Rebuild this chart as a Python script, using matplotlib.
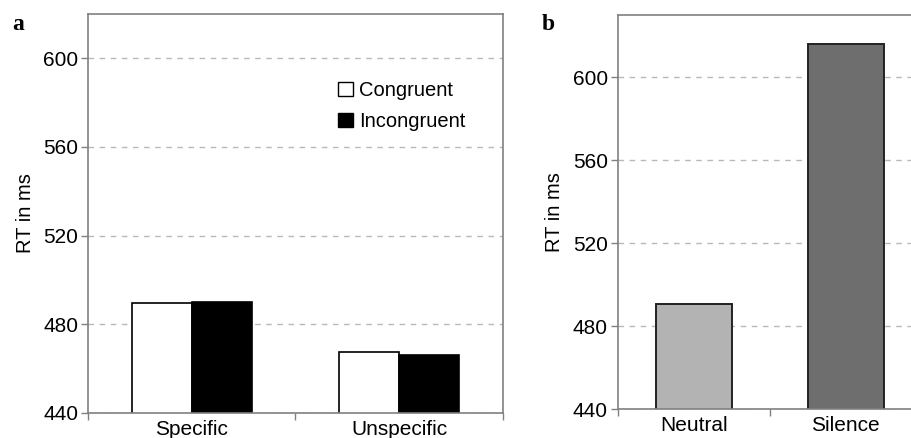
import numpy as np
import matplotlib
matplotlib.use('Agg')
import matplotlib.pyplot as plt
from matplotlib.patches import Patch

plt.rcParams['font.family'] = ['Liberation Sans', 'DejaVu Sans']
plt.rcParams['font.size'] = 15

# panel a
groups_a = ['Specific', 'Unspecific']
congruent = [489.5, 467.5]
incongruent = [490, 466]
# panel b
conds_b = ['Neutral', 'Silence']
rt_b = [490.7, 616]
colors_b = ['#b3b3b3', '#6e6e6e']

SPINE = '#808080'
GRID = '#b8b8b8'


def style_axes(ax, ylim, labels):
    ax.set_ylim(*ylim)
    ax.set_yticks([440, 480, 520, 560, 600])
    n = len(labels)
    ax.set_xlim(-0.5, n - 0.5)
    ax.set_xticks(range(n))
    ax.set_xticklabels(labels)
    ax.set_xticks(np.arange(-0.5, n), minor=True)
    ax.tick_params(axis='x', which='major', length=0, pad=5)
    ax.tick_params(axis='x', which='minor', length=5, color=SPINE, width=1)
    ax.tick_params(axis='y', length=5, color=SPINE, width=1, pad=2)
    for s in ax.spines.values():
        s.set_color(SPINE)
        s.set_linewidth(1.2)
    ax.grid(axis='y', color=GRID, linestyle=(0, (4, 4)), linewidth=1)
    ax.set_axisbelow(True)
    ax.set_ylabel('RT in ms', fontsize=14.5, labelpad=6)


fig = plt.figure(figsize=(9.11, 4.38), dpi=100)

ax1 = fig.add_axes([0.0966, 0.0571, 0.4555, 0.911])
x = np.arange(len(groups_a))
w = 0.29
ax1.bar(x - w / 2, congruent, w, color='white', edgecolor='black',
        linewidth=1.2, label='Congruent')
ax1.bar(x + w / 2, incongruent, w, color='black', edgecolor='black',
        linewidth=1.2, label='Incongruent')
style_axes(ax1, (440, 620), groups_a)
handles = [Patch(facecolor='white', edgecolor='black', linewidth=1),
           Patch(facecolor='black', edgecolor='black', linewidth=1)]
ax1.legend(handles, ['Congruent', 'Incongruent'], loc='upper left',
           bbox_to_anchor=(0.602, 0.832), frameon=False, fontsize=14.5,
           borderaxespad=0, borderpad=0,
           handlelength=0.75, handleheight=0.75, handletextpad=0.3,
           labelspacing=0.6)
fig.text(0.013, 0.968, 'a', fontsize=17, fontweight='bold',
         family='Liberation Serif', va='top')

ax2 = fig.add_axes([0.678, 0.0662, 0.3337, 0.8995])
ax2.bar(np.arange(len(conds_b)), rt_b, 0.5, color=colors_b, edgecolor='#222222',
        linewidth=1.4)
style_axes(ax2, (440, 630), conds_b)
fig.text(0.595, 0.968, 'b', fontsize=17, fontweight='bold',
         family='Liberation Serif', va='top')

fig.savefig('out.png', dpi=100)
